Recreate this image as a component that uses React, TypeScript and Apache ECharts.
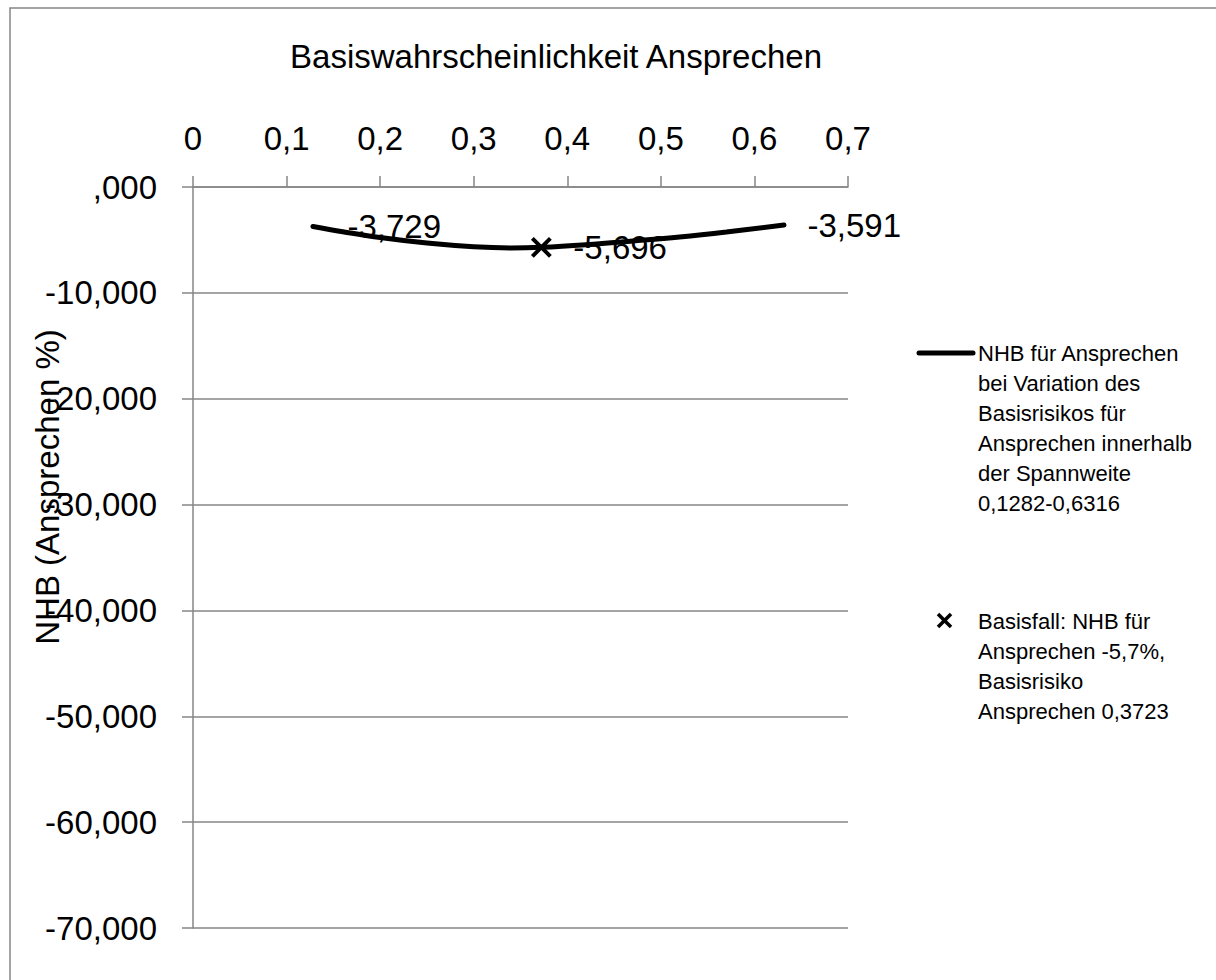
import React, { useEffect, useRef } from "react";
import * as echarts from "echarts";

const FONT = "'Liberation Sans', Arial, sans-serif";
const GRAY = "#868686";

const titleText = "Basiswahrscheinlichkeit Ansprechen";
const yAxisTitle = "NHB (Ansprechen %)";

const xTickLabels = ["0", "0,1", "0,2", "0,3", "0,4", "0,5", "0,6", "0,7"];
const yTickLabels = [",000", "-10,000", "-20,000", "-30,000", "-40,000", "-50,000", "-60,000", "-70,000"];

// NHB curve over the range of baseline risk
const xValues = [0.1282, 0.16, 0.2, 0.25, 0.3, 0.34, 0.3723, 0.42, 0.47, 0.52, 0.57, 0.6316];
const nhbValues = [-3.729, -4.22, -4.78, -5.3, -5.65, -5.76, -5.696, -5.45, -5.1, -4.72, -4.25, -3.591];

// base case
const baseX = [0.3723];
const baseY = [-5.696];

const legendLineText = [
  "NHB für Ansprechen",
  "bei Variation des",
  "Basisrisikos für",
  "Ansprechen innerhalb",
  "der Spannweite",
  "0,1282-0,6316",
];
const legendMarkerText = [
  "Basisfall: NHB für",
  "Ansprechen -5,7%,",
  "Basisrisiko",
  "Ansprechen 0,3723",
];

const fmt = (v: number) => v.toFixed(3).replace(".", ",");

export default function App() {
  const ref = useRef<HTMLDivElement>(null);

  useEffect(() => {
    document.body.style.margin = "0";
    const chart = echarts.init(ref.current as HTMLDivElement, null, { renderer: "svg" });
    const last = xValues.length - 1;

    const option: any = {
      animation: false,
      backgroundColor: "#ffffff",
      grid: { left: 193, top: 187, right: 368, bottom: 52 },
      xAxis: {
        type: "value",
        position: "top",
        min: 0,
        max: 0.7,
        interval: 0.1,
        axisLine: { show: true, onZero: false, lineStyle: { color: GRAY, width: 1.5 } },
        axisTick: { show: true, inside: false, length: 11, lineStyle: { color: GRAY, width: 1.5 } },
        splitLine: { show: false },
        axisLabel: {
          margin: 32,
          fontSize: 33,
          fontFamily: FONT,
          color: "#000",
          formatter: (v: number) => xTickLabels[Math.round(v / 0.1)] ?? "",
        },
      },
      yAxis: {
        type: "value",
        min: -70,
        max: 0,
        interval: 10,
        axisLine: { show: true, onZero: false, lineStyle: { color: GRAY, width: 1.5 } },
        axisTick: { show: true, inside: false, length: 11, lineStyle: { color: GRAY, width: 1.5 } },
        splitLine: { show: true, lineStyle: { color: GRAY, width: 1.5 } },
        axisLabel: {
          margin: 36,
          fontSize: 33,
          fontFamily: FONT,
          color: "#000",
          formatter: (v: number) => yTickLabels[Math.round(-v / 10)] ?? "",
        },
      },
      series: [
        {
          type: "line",
          name: legendLineText.join(" "),
          silent: true,
          smooth: 0.4,
          symbol: "circle",
          symbolSize: 1,
          showSymbol: true,
          lineStyle: { color: "#000", width: 5, cap: "round" },
          itemStyle: { color: "#000", opacity: 1 },
          label: {
            show: false,
            position: "right",
            fontSize: 33,
            fontFamily: FONT,
            color: "#000",
            formatter: (p: any) => fmt(p.value[1]),
          },
          data: xValues.map((x, i) => ({
            value: [x, nhbValues[i]],
            label: i === 0 || i === last ? { show: true, distance: i === 0 ? 34 : 23 } : { show: false },
          })),
          z: 2,
        },
        {
          type: "scatter",
          name: legendMarkerText.join(" "),
          silent: true,
          symbol: "path://M0,0L10,10M10,0L0,10",
          symbolSize: 18,
          itemStyle: { color: "rgba(0,0,0,0)", borderColor: "#000", borderWidth: 4, opacity: 1 },
          label: {
            show: true,
            position: "right",
            distance: 21,
            fontSize: 33,
            fontFamily: FONT,
            color: "#000",
            opacity: 1,
            formatter: (p: any) => fmt(p.value[1]),
          },
          data: baseX.map((x, i) => [x, baseY[i]]),
          z: 3,
        },
      ],
      graphic: [
        {
          type: "rect",
          silent: true,
          shape: { x: 10, y: 8, width: 1400, height: 1200 },
          style: { fill: "none", stroke: GRAY, lineWidth: 1.5 },
        },
        {
          type: "text",
          x: 556,
          y: 56,
          style: {
            text: titleText,
            fontSize: 33,
            fontFamily: FONT,
            fill: "#000",
            align: "center",
            verticalAlign: "middle",
          },
        },
        {
          type: "text",
          x: 47,
          y: 487,
          rotation: Math.PI / 2,
          style: {
            text: yAxisTitle,
            fontSize: 33,
            fontFamily: FONT,
            fill: "#000",
            align: "center",
            verticalAlign: "middle",
          },
        },
        {
          type: "line",
          shape: { x1: 919, y1: 353, x2: 973, y2: 353 },
          style: { stroke: "#000", lineWidth: 5, lineCap: "round" },
        },
        {
          type: "text",
          x: 978,
          y: 338,
          style: {
            text: legendLineText.join("\n"),
            fontSize: 22,
            lineHeight: 30,
            fontFamily: FONT,
            fill: "#000",
            align: "left",
            verticalAlign: "top",
          },
        },
        {
          type: "line",
          shape: { x1: 938, y1: 614, x2: 951, y2: 627 },
          style: { stroke: "#000", lineWidth: 3.5 },
        },
        {
          type: "line",
          shape: { x1: 951, y1: 614, x2: 938, y2: 627 },
          style: { stroke: "#000", lineWidth: 3.5 },
        },
        {
          type: "text",
          x: 978,
          y: 606,
          style: {
            text: legendMarkerText.join("\n"),
            fontSize: 22,
            lineHeight: 30,
            fontFamily: FONT,
            fill: "#000",
            align: "left",
            verticalAlign: "top",
          },
        },
      ],
    };

    chart.setOption(option);
    return () => chart.dispose();
  }, []);

  return <div ref={ref} style={{ width: 1216, height: 980 }} />;
}
